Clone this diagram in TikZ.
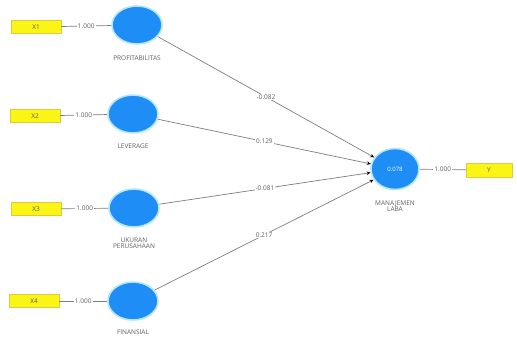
\documentclass[tikz,border=0pt]{standalone}
\usepackage{fontspec}
\setmainfont{Open Sans}
\usetikzlibrary{arrows.meta,shapes.geometric}
\definecolor{lv}{RGB}{30,142,246}
\definecolor{halo}{RGB}{180,230,255}
\definecolor{ybox}{RGB}{250,245,20}
\definecolor{yedge}{RGB}{225,200,60}
\definecolor{txt}{RGB}{95,95,95}
\definecolor{ln}{RGB}{125,125,125}
\tikzset{
  latent/.style={ellipse, fill=lv, draw=halo, line width=1.6pt, minimum width=50pt, minimum height=38pt, inner sep=0pt, text=white, font=\fontsize{6}{7}\selectfont},
  indic/.style={rectangle, fill=ybox, draw=yedge, line width=0.5pt, minimum width=50pt, minimum height=13pt, inner sep=0pt, text=txt, font=\fontsize{6.5}{7}\selectfont},
  lvlabel/.style={text=txt, font=\fontsize{6.5}{7.5}\selectfont, align=center, inner sep=0pt},
  wlabel/.style={fill=white, text=txt, font=\fontsize{6.5}{7.5}\selectfont, inner sep=1pt},
  conn/.style={draw=ln, line width=0.7pt},
  pathln/.style={draw=ln, line width=0.7pt, -{Stealth[length=4pt,width=3.5pt,black]}}
}
\begin{document}
\begin{tikzpicture}[x=1pt,y=-1pt]
\useasboundingbox (0,0) rectangle (517,338);
% indicators
\node[indic] (x1) at (36,27) {X1};
\node[indic] (x2) at (35,116) {X2};
\node[indic] (x3) at (36,209) {X3};
\node[indic] (x4) at (34,301) {X4};
\node[indic, minimum width=46pt, minimum height=14pt] (y) at (489,170) {Y};
% latent
\node[latent] (p) at (137,25) {};
\node[latent] (l) at (133,114) {};
\node[latent] (u) at (134,208) {};
\node[latent] (f) at (133,301) {};
\node[latent, minimum width=48pt, minimum height=41pt] (m) at (395,169) {0.078};
% labels
\node[lvlabel] (pl) at (137,58) {PROFITABILITAS};
\node[lvlabel] (ll) at (133,146) {LEVERAGE};
\node[lvlabel] (ul) at (134,243) {UKURAN\\[-1pt]PERUSAHAAN};
\node[lvlabel] (fl) at (133,332) {FINANSIAL};
\node[lvlabel] (ml) at (395,206) {MANAJEMEN\\[-1pt]LABA};
% measurement
\draw[conn] (x1) -- node[wlabel] {1.000} (p);
\draw[conn] (x2) -- node[wlabel] {1.000} (l);
\draw[conn] (x3) -- node[wlabel] {1.000} (u);
\draw[conn] (x4) -- node[wlabel] {1.000} (f);
\draw[conn] (m) -- node[wlabel] {1.000} (y);
% structural
\draw[pathln] (p) -- node[wlabel, pos=0.5] {-0.082} (m);
\draw[pathln] (l) -- node[wlabel, pos=0.5] {0.129} (m);
\draw[pathln] (u) -- node[wlabel, pos=0.5] {-0.081} (m);
\draw[pathln] (f) -- node[wlabel, pos=0.5] {0.217} (m);
\end{tikzpicture}
\end{document}
